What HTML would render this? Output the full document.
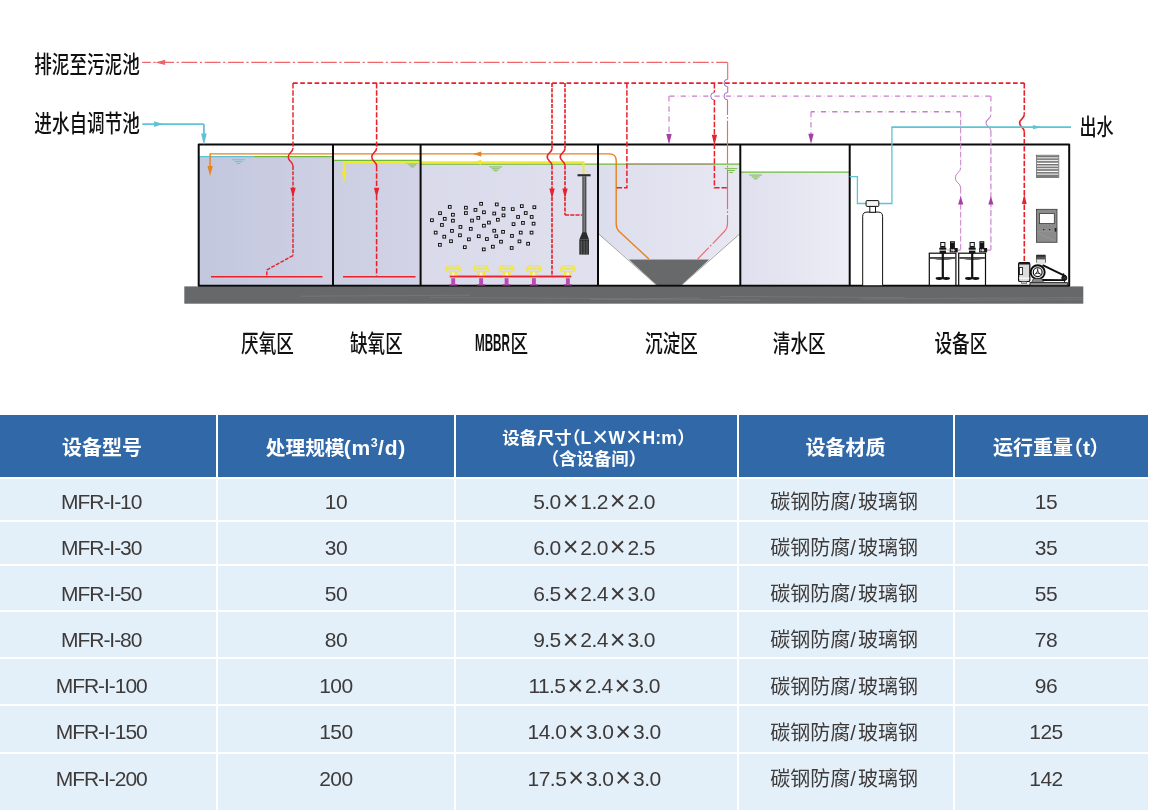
<!DOCTYPE html>
<html lang="zh-CN">
<head>
<meta charset="utf-8">
<title>一体化污水处理设备 工艺流程与型号参数</title>
<style>
html,body{margin:0;padding:0;background:#fff}
html{width:1149px;height:810px;overflow:hidden}
body{position:relative;width:1149px;height:810px;overflow:hidden;font-family:"Liberation Sans","Noto Sans CJK SC",sans-serif;color:#3e3a39}
#page{position:absolute;left:0;top:0;width:1149px;height:810px;overflow:hidden}
#ov{position:absolute;left:0;top:0;width:1149px;height:810px;pointer-events:none;will-change:transform}
#ov text{font-family:"Liberation Sans","Noto Sans CJK SC",sans-serif}
.h{color:transparent}
#spec{position:absolute;left:-2px;top:413px;border-collapse:separate;border-spacing:2px;table-layout:fixed;width:1151.7px;background:#fff;margin:0;will-change:transform}
#spec th,#spec td{padding:0;margin:0;vertical-align:top;white-space:nowrap;overflow:hidden;text-align:center}
#spec th{background:#3168a8;color:#fff;font-weight:bold;height:62px;font-size:20px;line-height:24px;text-align:left}
#spec td{background:#e3f0fa;color:#3e3a39;font-size:21px;line-height:24px;letter-spacing:-0.55px}
#spec .x{display:inline-block;width:19.6px;text-align:center;font-size:27px;line-height:0;letter-spacing:0;position:relative;top:1.8px}
#spec tr.r1 td{height:40.7px;padding-top:10.52px}
#spec tr.r2 td{height:42.1px;padding-top:14px}
#spec tr.r3 td{height:44.6px;padding-top:16.08px}
#spec tr.r4 td{height:44.9px;padding-top:15.66px}
#spec tr.r5 td{height:45px;padding-top:14.94px}
#spec tr.r6 td{height:45.4px;padding-top:14.12px}
#spec tr.r7 td{height:58.3px;padding-top:12.9px}
#spec td,#spec th{box-sizing:border-box}
#spec td.c1{letter-spacing:-1.05px}
#spec td.c1{padding-right:13.1px}
#spec td.c2{padding-left:0.3px}
#spec td.c3{padding-right:4.5px}
#spec td.c4{padding-right:3.6px}
#spec td.c5{padding-right:10.8px}
#spec th,#spec td{position:relative}
#spec .h{position:absolute;top:0;height:24px;line-height:24px;white-space:nowrap;overflow:hidden;letter-spacing:0;font-size:20px}
#spec sup{font-size:12.5px;line-height:0;vertical-align:baseline;position:relative;top:-8px;letter-spacing:0.3px}
#spec .x3{display:inline-block;width:17.2px;text-align:center;font-size:27px;font-weight:normal;line-height:0;position:relative;top:1.9px;letter-spacing:0}
</style>
</head>
<body>
<div id="page">
<table id="spec">
<colgroup><col style="width:215.5px"><col style="width:236.5px"><col style="width:280.7px"><col style="width:214.4px"><col style="width:192.6px"></colgroup>
<thead><tr><th></th><th style="padding:20.92px 0 0 126.25px;font-size:21px;line-height:24px;letter-spacing:0.7px">(m<sup>3</sup>/d)</th><th style="padding:10.9px 0 0 124.49px;font-size:17.6px;line-height:24px;letter-spacing:0.1px"><span class="l3" style="display:inline-block;width:96.65px;text-align:center">L<span class="x3">×</span>W<span class="x3">×</span>H:m</span><br></th><th></th><th style="padding:20.92px 0 0 128.02px;font-size:21px;line-height:24px;"><span style="display:inline-block;width:6.44px;text-align:center">t</span></th></tr></thead>
<tbody>
<tr class="r1"><td class="c1">MFR-I-10</td><td class="c2">10</td><td class="c3">5.0<span class="x">×</span>1.2<span class="x">×</span>2.0</td><td class="c4"></td><td class="c5">15</td></tr>
<tr class="r2"><td class="c1">MFR-I-30</td><td class="c2">30</td><td class="c3">6.0<span class="x">×</span>2.0<span class="x">×</span>2.5</td><td class="c4"></td><td class="c5">35</td></tr>
<tr class="r3"><td class="c1">MFR-I-50</td><td class="c2">50</td><td class="c3">6.5<span class="x">×</span>2.4<span class="x">×</span>3.0</td><td class="c4"></td><td class="c5">55</td></tr>
<tr class="r4"><td class="c1">MFR-I-80</td><td class="c2">80</td><td class="c3">9.5<span class="x">×</span>2.4<span class="x">×</span>3.0</td><td class="c4"></td><td class="c5">78</td></tr>
<tr class="r5"><td class="c1">MFR-I-100</td><td class="c2">100</td><td class="c3">11.5<span class="x">×</span>2.4<span class="x">×</span>3.0</td><td class="c4"></td><td class="c5">96</td></tr>
<tr class="r6"><td class="c1">MFR-I-150</td><td class="c2">150</td><td class="c3">14.0<span class="x">×</span>3.0<span class="x">×</span>3.0</td><td class="c4"></td><td class="c5">125</td></tr>
<tr class="r7"><td class="c1">MFR-I-200</td><td class="c2">200</td><td class="c3">17.5<span class="x">×</span>3.0<span class="x">×</span>3.0</td><td class="c4"></td><td class="c5">142</td></tr>
</tbody></table>
<svg id="ov" width="1149" height="810" viewBox="0 0 1149 810">
<defs>
<linearGradient id="w1" x1="0" x2="1" y1="0" y2="0"><stop offset="0" stop-color="#c2c7de"/><stop offset="1" stop-color="#cfd0e4"/></linearGradient>
<linearGradient id="w2" x1="0" x2="1" y1="0" y2="0"><stop offset="0" stop-color="#cccee2"/><stop offset="1" stop-color="#d2d3e6"/></linearGradient>
<linearGradient id="w3" x1="0" x2="1" y1="0" y2="0"><stop offset="0" stop-color="#d9daea"/><stop offset="1" stop-color="#e0e0ee"/></linearGradient>
<linearGradient id="w4" x1="0" x2="1" y1="0" y2="0"><stop offset="0" stop-color="#dddeed"/><stop offset="1" stop-color="#e8e8f3"/></linearGradient>
<linearGradient id="w5" x1="0" x2="1" y1="0" y2="0"><stop offset="0" stop-color="#dfdfee"/><stop offset="1" stop-color="#ededf6"/></linearGradient>
<linearGradient id="bp" x1="0" x2="0" y1="0" y2="1"><stop offset="0" stop-color="#686868"/><stop offset=".55" stop-color="#6e6e6e"/><stop offset=".62" stop-color="#7b7b7b"/><stop offset=".7" stop-color="#6d6d6d"/><stop offset="1" stop-color="#6a6a6a"/></linearGradient>

</defs>
<g id="water">
<rect x="198.7" y="156.6" width="134.3" height="129.1" fill="url(#w1)"/>
<rect x="333" y="160.4" width="87.6" height="125.3" fill="url(#w2)"/>
<rect x="420.6" y="164.2" width="177.4" height="121.5" fill="url(#w3)"/>
<polygon points="598,164.1 740.3,164.1 740.3,233.4 709.2,259.5 628.9,259.5 598,233.4" fill="url(#w4)"/>
<rect x="740.3" y="172.2" width="109.4" height="113.5" fill="url(#w5)"/>
</g>
<rect x="184.3" y="286.4" width="899.0" height="17.3" fill="#67686a"/>
<path d="M300 296.2 L470 295.2 M430 297.6 L640 298.6 L700 298.1 M590 299.4 L760 300 M720 296.4 L905 297.6 M860 299 L1000 298.2 L1083 297.4 M960 300.3 L1083 299.6" fill="none" stroke="#9a9a9a" stroke-opacity=".45" stroke-width="0.6"/>
<polygon points="628.9,259.5 709.2,259.5 681.6,285 656.6,285" fill="#68696a"/>
<path d="M598 233.4 L656.6 285" fill="none" stroke="#8a8a8a" stroke-width="0.8"/>
<path d="M740.3 233.4 L681.6 285" fill="none" stroke="#8a8a8a" stroke-width="0.8"/>
<path d="M198.7 156.6 L253.7 156.6" fill="none" stroke="#5fc3d5" stroke-width="1.2"/>
<path d="M253.7 156.6 L333 156.6" fill="none" stroke="#6fba3a" stroke-width="1.2"/>
<path d="M333 160.4 L420.6 160.4" fill="none" stroke="#6fba3a" stroke-width="1.2"/>
<path d="M420.6 164.1 L740.3 164.1" fill="none" stroke="#6fba3a" stroke-width="1.2"/>
<path d="M740.3 172.2 L849.7 172.2" fill="none" stroke="#6fba3a" stroke-width="1.2"/>
<path d="M627.6 164.1 L713.7 164.1" fill="none" stroke="#a8948a" stroke-width="1.45"/>
<rect x="232.2" y="159.3" width="12.6" height="0.9" fill="#5fc3d5"/><rect x="234.59" y="161.2" width="7.81" height="0.9" fill="#5fc3d5"/><rect x="236.61" y="163.1" width="3.78" height="0.9" fill="#5fc3d5"/>
<rect x="406.1" y="162.6" width="12.6" height="0.9" fill="#6fba3a"/><rect x="408.49" y="164.5" width="7.81" height="0.9" fill="#6fba3a"/><rect x="410.51" y="166.4" width="3.78" height="0.9" fill="#6fba3a"/>
<rect x="489.4" y="166.5" width="12.6" height="0.9" fill="#6fba3a"/><rect x="491.79" y="168.4" width="7.81" height="0.9" fill="#6fba3a"/><rect x="493.81" y="170.3" width="3.78" height="0.9" fill="#6fba3a"/>
<rect x="724.7" y="168.2" width="12.6" height="0.9" fill="#6fba3a"/><rect x="727.09" y="170.1" width="7.81" height="0.9" fill="#6fba3a"/><rect x="729.11" y="172" width="3.78" height="0.9" fill="#6fba3a"/>
<rect x="749.3" y="174.6" width="12.6" height="0.9" fill="#6fba3a"/><rect x="751.69" y="176.5" width="7.81" height="0.9" fill="#6fba3a"/><rect x="753.71" y="178.4" width="3.78" height="0.9" fill="#6fba3a"/>
<path d="M210.1 166 V153.9 H609.5 Q616.2 153.9 616.2 161 V224 Q616.2 228.5 619 231.2 L648.9 259" fill="none" stroke="#e8811f" stroke-width="1.4"/>
<polygon points="210.1,175.9 207.45,166.1 212.75,166.1" fill="#e8811f"/>
<polygon points="473,153.9 481.3,151.4 481.3,156.4" fill="#e8811f"/>
<path d="M344.2 172 V162.2 H583.6 V174.2" fill="none" stroke="#f1e738" stroke-width="1.9"/>
<polygon points="344.2,182.2 341.8,171.7 346.6,171.7" fill="#f1e738"/>
<polygon points="473,162.2 481.3,159.7 481.3,164.7" fill="#f1e738"/>
<g fill="none" stroke="#0a0a0a" stroke-width="2.0" stroke-linejoin="round">
<path d="M198.7 144.6 V285.7 H1069.2 V144.6 Z"/>
<path d="M333 144.6 V285.7"/>
<path d="M420.6 144.6 V285.7"/>
<path d="M598 144.6 V285.7"/>
<path d="M740.3 144.6 V285.7"/>
<path d="M849.7 144.6 V285.7"/>
</g>
<path d="M293 83 L1024.3 83" fill="none" stroke="#e7222a" stroke-width="1.75" stroke-dasharray="4.7 2.5"/>
<path d="M293 83 L293 148" fill="none" stroke="#e7222a" stroke-width="1.45" stroke-dasharray="5.4 1.9"/>
<path d="M293 148 C293 152.5 288.2 152.5 288.2 157 S293 161.5 293 166" fill="none" stroke="#e7222a" stroke-width="1.45"/>
<path d="M293 166 L293 255.6" fill="none" stroke="#e7222a" stroke-width="1.45" stroke-dasharray="3.9 1.3"/>
<path d="M293 255.6 L267 269.8 L266.7 276.5" fill="none" stroke="#e7222a" stroke-width="1.45" stroke-dasharray="3.9 1.3" stroke-linejoin="round"/>
<polygon points="293,197.8 290.3,187.8 295.7,187.8" fill="#e7222a"/>
<path d="M211 276.7 L322.5 276.7" fill="none" stroke="#e7222a" stroke-width="1.5"/>
<path d="M376.6 83 L376.6 148" fill="none" stroke="#e7222a" stroke-width="1.55" stroke-dasharray="5.4 1.9"/>
<path d="M376.6 148 C376.6 152.5 371.8 152.5 371.8 157 S376.6 161.5 376.6 166" fill="none" stroke="#e7222a" stroke-width="1.55"/>
<path d="M376.6 166 L376.6 276.5" fill="none" stroke="#e7222a" stroke-width="1.55" stroke-dasharray="5.4 1.9"/>
<polygon points="376.6,197.8 373.9,187.8 379.3,187.8" fill="#e7222a"/>
<path d="M343 276.7 L415.5 276.7" fill="none" stroke="#e7222a" stroke-width="1.5"/>
<path d="M552 83 L552 148.5" fill="none" stroke="#e7222a" stroke-width="1.65" stroke-dasharray="4.1 1.15"/>
<path d="M552 148.5 C552 152.75 547.2 152.75 547.2 157 S552 161.25 552 165.5" fill="none" stroke="#e7222a" stroke-width="1.65"/>
<path d="M552 165.5 L552 276.3" fill="none" stroke="#e7222a" stroke-width="1.65" stroke-dasharray="4.1 1.15"/>
<polygon points="552,198.6 549.3,188.6 554.7,188.6" fill="#e7222a"/>
<path d="M449.8 276.5 L571.2 276.5" fill="none" stroke="#e7222a" stroke-width="1.6"/>
<path d="M565 83 L565 148.5" fill="none" stroke="#e7222a" stroke-width="1.65" stroke-dasharray="4.1 1.15"/>
<path d="M565 148.5 C565 152.75 560.2 152.75 560.2 157 S565 161.25 565 165.5" fill="none" stroke="#e7222a" stroke-width="1.65"/>
<path d="M565 165.5 L565 215" fill="none" stroke="#e7222a" stroke-width="1.65" stroke-dasharray="4.1 1.15"/>
<polygon points="565,198.6 562.3,188.6 567.7,188.6" fill="#e7222a"/>
<path d="M565 215 L582.2 215" fill="none" stroke="#e7222a" stroke-width="1.6" stroke-dasharray="4.1 1.15"/>
<path d="M626.9 83 L626.9 187.7 L616.4 187.7" fill="none" stroke="#e7222a" stroke-width="1.5" stroke-dasharray="5.4 1.9"/>
<path d="M714.4 83 L714.4 92.5" fill="none" stroke="#e7222a" stroke-width="1.5" stroke-dasharray="5.4 1.9"/>
<path d="M714.4 92.5 A3.7 3.7 0 0 0 714.4 99.9" fill="none" stroke="#9a6cc0" stroke-width="1"/>
<path d="M714.4 99.9 L714.4 187.7 L727.5 187.7" fill="none" stroke="#e7222a" stroke-width="1.5" stroke-dasharray="5.4 1.9"/>
<polygon points="714.4,145.2 711.75,134.7 717.05,134.7" fill="#e7222a"/>
<path d="M1024.3 83 L1024.3 114.6" fill="none" stroke="#e7222a" stroke-width="1.6" stroke-dasharray="5.4 1.9"/>
<path d="M1024.3 114.6 C1024.3 118.85 1019.6 118.85 1019.6 123.1 S1024.3 127.35 1024.3 131.6" fill="none" stroke="#e7222a" stroke-width="1.7"/>
<path d="M1024.3 131.6 L1024.3 263" fill="none" stroke="#e7222a" stroke-width="1.6" stroke-dasharray="5.4 1.9"/>
<polygon points="1024.3,194.6 1021.9,204.1 1026.7,204.1" fill="#e7222a"/>
<path d="M727.7 62.4 L142.2 62.4" fill="none" stroke="#f0676b" stroke-width="1.2" stroke-dasharray="15.8 2.65 2.15 2.65" stroke-dashoffset="4.3"/>
<polygon points="155.2,62.4 165.2,59.7 165.2,65.1" fill="#ea666b"/>
<path d="M727.7 62.4 L727.7 79.3" fill="none" stroke="#f0676b" stroke-width="1.1"/>
<path d="M727.7 79.3 A3.7 3.7 0 0 0 727.7 86.7" fill="none" stroke="#9a6cc0" stroke-width="1"/>
<path d="M727.7 86.7 L727.7 92.5" fill="none" stroke="#f0676b" stroke-width="1.1"/>
<path d="M727.7 92.5 A3.7 3.7 0 0 0 727.7 99.9" fill="none" stroke="#9a6cc0" stroke-width="1"/>
<path d="M727.5 99.9 V223 Q727.5 228.5 724.3 231.5 L697.6 259.2" fill="none" stroke="#f0676b" stroke-width="1.15" stroke-dasharray="15.1 2 1.8 2 43 2 1.8 2 39.7 2 1.8 2 33.9 2 1.8 2 30"/>
<path d="M669 96.1 L990.9 96.1" fill="none" stroke="#c47fc8" stroke-width="1.45" stroke-dasharray="5.2 6.08" stroke-dashoffset="-0.4"/>
<path d="M669 96.1 L990.9 96.1" fill="none" stroke="#e2c4e6" stroke-width="1.23" stroke-dasharray="1.1 10.18" stroke-dashoffset="-8.09"/>
<path d="M669 96.1 L669 134" fill="none" stroke="#c47fc8" stroke-width="1.15" stroke-dasharray="5.5 4.6" stroke-dashoffset="0"/>
<path d="M669 96.1 L669 134" fill="none" stroke="#e2c4e6" stroke-width="0.98" stroke-dasharray="1.1 9" stroke-dashoffset="-7.25"/>
<path d="M990.9 96.1 L990.9 115.1" fill="none" stroke="#c47fc8" stroke-width="1.15" stroke-dasharray="5.5 4.6" stroke-dashoffset="0"/>
<path d="M990.9 96.1 L990.9 115.1" fill="none" stroke="#e2c4e6" stroke-width="0.98" stroke-dasharray="1.1 9" stroke-dashoffset="-7.25"/>
<polygon points="669,144.4 666.3,134 671.7,134" fill="#a63fa3"/>
<path d="M990.9 115.1 C990.9 119 986 119 986 122.9 S990.9 126.8 990.9 130.7" fill="none" stroke="#c47fc8" stroke-width="1.1"/>
<path d="M990.9 130.7 L990.9 249.8" fill="none" stroke="#c47fc8" stroke-width="1.15" stroke-dasharray="6.1 2.7" stroke-dashoffset="0"/>
<path d="M990.9 130.7 L990.9 249.8" fill="none" stroke="#e2c4e6" stroke-width="0.98" stroke-dasharray="1.1 7.7" stroke-dashoffset="-6.9"/>
<path d="M990.9 250.1 L985.3 250.1" fill="none" stroke="#c47fc8" stroke-width="1.2"/>
<polygon points="990.9,196.2 988.3,204.4 993.5,204.4" fill="#a63fa3"/>
<path d="M811 111.8 L960.7 111.8" fill="none" stroke="#c47fc8" stroke-width="1.45" stroke-dasharray="5.2 6.09" stroke-dashoffset="1.4"/>
<path d="M811 111.8 L960.7 111.8" fill="none" stroke="#e2c4e6" stroke-width="1.23" stroke-dasharray="1.1 10.19" stroke-dashoffset="-6.29"/>
<path d="M811 111.8 L811 134" fill="none" stroke="#c47fc8" stroke-width="1.15" stroke-dasharray="5.5 4.6" stroke-dashoffset="0"/>
<path d="M811 111.8 L811 134" fill="none" stroke="#e2c4e6" stroke-width="0.98" stroke-dasharray="1.1 9" stroke-dashoffset="-7.25"/>
<path d="M960.7 111.8 L960.7 167.6" fill="none" stroke="#c47fc8" stroke-width="1" stroke-dasharray="5.5 2.5" stroke-dashoffset="0"/>
<path d="M960.7 111.8 L960.7 167.6" fill="none" stroke="#e2c4e6" stroke-width="0.85" stroke-dasharray="1.1 6.9" stroke-dashoffset="-6.2"/>
<polygon points="811,144 808.3,133.8 813.7,133.8" fill="#a63fa3"/>
<path d="M960.7 167.6 C960.7 172.7 955.3 172.7 955.3 177.8 S960.7 182.9 960.7 188" fill="none" stroke="#c47fc8" stroke-width="1"/>
<path d="M960.7 188 L960.7 249.8" fill="none" stroke="#c47fc8" stroke-width="1" stroke-dasharray="5.5 2.5" stroke-dashoffset="0"/>
<path d="M960.7 188 L960.7 249.8" fill="none" stroke="#e2c4e6" stroke-width="0.85" stroke-dasharray="1.1 6.9" stroke-dashoffset="-6.2"/>
<path d="M960.7 250.1 L954.8 250.1" fill="none" stroke="#c47fc8" stroke-width="1.2"/>
<polygon points="960.7,196.2 958.1,204.4 963.3,204.4" fill="#a63fa3"/>
<path d="M142.3 124.1 H203 Q203.9 124.1 203.9 125 V136" fill="none" stroke="#5fc3d5" stroke-width="1.8"/>
<polygon points="163.1,124.1 154.1,121.25 154.1,126.95" fill="#5fc3d5"/>
<polygon points="203.9,145.1 201.05,133.6 206.75,133.6" fill="#5fc3d5"/>
<path d="M849.7 176.6 L857.4 176.6 L857.4 203.5 L866.2 203.5" fill="none" stroke="#5fc3d5" stroke-width="1.3"/>
<path d="M878.7 203.5 L891.9 203.5 L891.9 127.2" fill="none" stroke="#5fc3d5" stroke-width="1.3"/>
<path d="M891.3 127.2 L1071 127.2" fill="none" stroke="#5fc3d5" stroke-width="1.7"/>
<polygon points="1041.3,127.2 1032.9,125.05 1032.9,129.35" fill="#5fc3d5"/>
<text x="34.25" y="72.6" font-size="23.3" font-weight="500" textLength="105.55" lengthAdjust="spacingAndGlyphs" fill="#111">排泥至污泥池</text>
<text x="34.34" y="131.9" font-size="23.3" font-weight="500" textLength="105.55" lengthAdjust="spacingAndGlyphs" fill="#111">进水自调节池</text>
<text x="1079.46" y="134.85" font-size="22.2" font-weight="500" textLength="34.19" lengthAdjust="spacingAndGlyphs" fill="#111">出水</text>
<text x="241.11" y="351.8" font-size="23.3" font-weight="500" textLength="52.77" lengthAdjust="spacingAndGlyphs" fill="#111">厌氧区</text>
<text x="349.96" y="351.8" font-size="23.3" font-weight="500" textLength="52.77" lengthAdjust="spacingAndGlyphs" fill="#111">缺氧区</text>
<text x="645.1" y="351.8" font-size="23.3" font-weight="500" textLength="52.77" lengthAdjust="spacingAndGlyphs" fill="#111">沉淀区</text>
<text x="772.85" y="351.8" font-size="23.3" font-weight="500" textLength="52.77" lengthAdjust="spacingAndGlyphs" fill="#111">清水区</text>
<text x="934.5" y="351.8" font-size="23.3" font-weight="500" textLength="52.77" lengthAdjust="spacingAndGlyphs" fill="#111">设备区</text>
<text y="351.0" font-size="23.2" fill="#111"><tspan x="475" font-weight="bold" textLength="34.9" lengthAdjust="spacingAndGlyphs">MBBR</tspan><tspan x="510.4" y="351.8" font-size="23.3" font-weight="500" textLength="17.59" lengthAdjust="spacingAndGlyphs">区</tspan></text>
<g fill="#f4f4f8" stroke="#111" stroke-width="1">
<rect x="448.42" y="205.57" width="2.7" height="2.7"/>
<rect x="464.55" y="206.35" width="2.7" height="2.7"/>
<rect x="479.75" y="202.44" width="2.7" height="2.7"/>
<rect x="495.42" y="203.06" width="2.7" height="2.7"/>
<rect x="502.15" y="207.45" width="2.7" height="2.7"/>
<rect x="511.4" y="207.76" width="2.7" height="2.7"/>
<rect x="520.48" y="204.79" width="2.7" height="2.7"/>
<rect x="533.02" y="205.88" width="2.7" height="2.7"/>
<rect x="438.7" y="211.84" width="2.7" height="2.7"/>
<rect x="451.55" y="213.4" width="2.7" height="2.7"/>
<rect x="464.55" y="211.68" width="2.7" height="2.7"/>
<rect x="474.11" y="208.55" width="2.7" height="2.7"/>
<rect x="482.57" y="210.9" width="2.7" height="2.7"/>
<rect x="492.91" y="212.15" width="2.7" height="2.7"/>
<rect x="502.15" y="214.03" width="2.7" height="2.7"/>
<rect x="524.4" y="211.68" width="2.7" height="2.7"/>
<rect x="530.35" y="215.6" width="2.7" height="2.7"/>
<rect x="516.72" y="215.6" width="2.7" height="2.7"/>
<rect x="430.56" y="218.89" width="2.7" height="2.7"/>
<rect x="443.4" y="217.48" width="2.7" height="2.7"/>
<rect x="451.55" y="219.36" width="2.7" height="2.7"/>
<rect x="470.66" y="219.2" width="2.7" height="2.7"/>
<rect x="476.93" y="216.54" width="2.7" height="2.7"/>
<rect x="487.58" y="221.24" width="2.7" height="2.7"/>
<rect x="496.51" y="218.42" width="2.7" height="2.7"/>
<rect x="512.18" y="222.8" width="2.7" height="2.7"/>
<rect x="521.58" y="221.55" width="2.7" height="2.7"/>
<rect x="532.23" y="222.33" width="2.7" height="2.7"/>
<rect x="440.58" y="223.59" width="2.7" height="2.7"/>
<rect x="459.07" y="225.62" width="2.7" height="2.7"/>
<rect x="469.41" y="227.5" width="2.7" height="2.7"/>
<rect x="482.57" y="224.37" width="2.7" height="2.7"/>
<rect x="492.91" y="229.38" width="2.7" height="2.7"/>
<rect x="501.68" y="230.48" width="2.7" height="2.7"/>
<rect x="519.39" y="231.26" width="2.7" height="2.7"/>
<rect x="530.2" y="231.26" width="2.7" height="2.7"/>
<rect x="434.32" y="231.26" width="2.7" height="2.7"/>
<rect x="450.61" y="229.54" width="2.7" height="2.7"/>
<rect x="458.6" y="233.93" width="2.7" height="2.7"/>
<rect x="442.93" y="235.34" width="2.7" height="2.7"/>
<rect x="477.4" y="234.87" width="2.7" height="2.7"/>
<rect x="494.95" y="234.87" width="2.7" height="2.7"/>
<rect x="510.61" y="234.55" width="2.7" height="2.7"/>
<rect x="449.67" y="239.88" width="2.7" height="2.7"/>
<rect x="467.53" y="238" width="2.7" height="2.7"/>
<rect x="485.55" y="237.69" width="2.7" height="2.7"/>
<rect x="499.65" y="240.35" width="2.7" height="2.7"/>
<rect x="518.13" y="240.04" width="2.7" height="2.7"/>
<rect x="526.75" y="242.39" width="2.7" height="2.7"/>
<rect x="438.55" y="243.48" width="2.7" height="2.7"/>
<rect x="463.46" y="245.83" width="2.7" height="2.7"/>
<rect x="482.41" y="248.03" width="2.7" height="2.7"/>
<rect x="491.5" y="245.36" width="2.7" height="2.7"/>
<rect x="510.3" y="246.62" width="2.7" height="2.7"/>
</g>
<rect x="451.25" y="278.2" width="3.9" height="6.2" fill="#b24fae"/><rect x="449.2" y="284.0" width="8.0" height="1.5" fill="#b24fae"/><rect x="451.7" y="271.6" width="3.0" height="4.3" fill="#fff" fill-opacity=".55"/><path d="M449.8 271.2 V278.3 M456.6 271.2 V278.3 M451.3 272 V277.6 M455.1 272 V277.6" stroke="#f1e738" stroke-width="1.1" fill="none"/><ellipse cx="453.2" cy="267.5" rx="6.9" ry="1.9" fill="none" stroke="#f1e738" stroke-width="1.15"/><ellipse cx="453.2" cy="269.8" rx="7.6" ry="2.0" fill="none" stroke="#f1e738" stroke-width="1.15"/>
<rect x="479.15" y="278.2" width="3.9" height="6.2" fill="#b24fae"/><rect x="477.1" y="284.0" width="8.0" height="1.5" fill="#b24fae"/><rect x="479.6" y="271.6" width="3.0" height="4.3" fill="#fff" fill-opacity=".55"/><path d="M477.7 271.2 V278.3 M484.5 271.2 V278.3 M479.2 272 V277.6 M483 272 V277.6" stroke="#f1e738" stroke-width="1.1" fill="none"/><ellipse cx="481.1" cy="267.5" rx="6.9" ry="1.9" fill="none" stroke="#f1e738" stroke-width="1.15"/><ellipse cx="481.1" cy="269.8" rx="7.6" ry="2.0" fill="none" stroke="#f1e738" stroke-width="1.15"/>
<rect x="504.65" y="278.2" width="3.9" height="6.2" fill="#b24fae"/><rect x="502.6" y="284.0" width="8.0" height="1.5" fill="#b24fae"/><rect x="505.1" y="271.6" width="3.0" height="4.3" fill="#fff" fill-opacity=".55"/><path d="M503.2 271.2 V278.3 M510 271.2 V278.3 M504.7 272 V277.6 M508.5 272 V277.6" stroke="#f1e738" stroke-width="1.1" fill="none"/><ellipse cx="506.6" cy="267.5" rx="6.9" ry="1.9" fill="none" stroke="#f1e738" stroke-width="1.15"/><ellipse cx="506.6" cy="269.8" rx="7.6" ry="2.0" fill="none" stroke="#f1e738" stroke-width="1.15"/>
<rect x="531.95" y="278.2" width="3.9" height="6.2" fill="#b24fae"/><rect x="529.9" y="284.0" width="8.0" height="1.5" fill="#b24fae"/><rect x="532.4" y="271.6" width="3.0" height="4.3" fill="#fff" fill-opacity=".55"/><path d="M530.5 271.2 V278.3 M537.3 271.2 V278.3 M532 272 V277.6 M535.8 272 V277.6" stroke="#f1e738" stroke-width="1.1" fill="none"/><ellipse cx="533.9" cy="267.5" rx="6.9" ry="1.9" fill="none" stroke="#f1e738" stroke-width="1.15"/><ellipse cx="533.9" cy="269.8" rx="7.6" ry="2.0" fill="none" stroke="#f1e738" stroke-width="1.15"/>
<rect x="565.95" y="278.2" width="3.9" height="6.2" fill="#b24fae"/><rect x="563.9" y="284.0" width="8.0" height="1.5" fill="#b24fae"/><rect x="566.4" y="271.6" width="3.0" height="4.3" fill="#fff" fill-opacity=".55"/><path d="M564.5 271.2 V278.3 M571.3 271.2 V278.3 M566 272 V277.6 M569.8 272 V277.6" stroke="#f1e738" stroke-width="1.1" fill="none"/><ellipse cx="567.9" cy="267.5" rx="6.9" ry="1.9" fill="none" stroke="#f1e738" stroke-width="1.15"/><ellipse cx="567.9" cy="269.8" rx="7.6" ry="2.0" fill="none" stroke="#f1e738" stroke-width="1.15"/>
<path d="M449.8 276.5 L571.2 276.5" fill="none" stroke="#e7222a" stroke-width="1.6"/>
<g>
<rect x="577.5" y="174.2" width="13.1" height="2.1" fill="#2b2b2b"/>
<rect x="582.3" y="176.3" width="4.1" height="56.5" fill="#4d4d4d"/>
<rect x="583.6" y="176.3" width="1.3" height="56.5" fill="#808080"/>
<polygon points="582.3,232.3 586.4,232.3 589,239.6 579.3,239.6" fill="#2b2b2b"/>
<rect x="579.3" y="239.4" width="9.7" height="15.2" fill="#303030"/>
<path d="M581.3 241V254M584.15 241V254M587 241V254" stroke="#777" stroke-width="0.7"/>
</g>
<g fill="#fff" stroke="#111" stroke-width="1">
<path d="M862.7 285.3 V216.4 Q862.7 212.1 867 212.1 H878.3 Q882.6 212.1 882.6 216.4 V285.3"/>
<rect x="869.8" y="206.3" width="5.7" height="6.0"/>
<rect x="866.1" y="200.6" width="12.7" height="5.8" rx="0.8" fill="#f4f4f4"/>
</g>
<rect x="1036.4" y="155.2" width="22.4" height="22.2" fill="#fff" stroke="#4a4a4a" stroke-width="0.7"/>
<rect x="1036.8" y="155.9" width="21.6" height="1.55" fill="#8d8d8d"/><rect x="1036.8" y="155.9" width="21.6" height="0.5" fill="#555"/>
<rect x="1036.8" y="158.62" width="21.6" height="1.55" fill="#8d8d8d"/><rect x="1036.8" y="158.62" width="21.6" height="0.5" fill="#555"/>
<rect x="1036.8" y="161.34" width="21.6" height="1.55" fill="#8d8d8d"/><rect x="1036.8" y="161.34" width="21.6" height="0.5" fill="#555"/>
<rect x="1036.8" y="164.06" width="21.6" height="1.55" fill="#8d8d8d"/><rect x="1036.8" y="164.06" width="21.6" height="0.5" fill="#555"/>
<rect x="1036.8" y="166.78" width="21.6" height="1.55" fill="#8d8d8d"/><rect x="1036.8" y="166.78" width="21.6" height="0.5" fill="#555"/>
<rect x="1036.8" y="169.5" width="21.6" height="1.55" fill="#8d8d8d"/><rect x="1036.8" y="169.5" width="21.6" height="0.5" fill="#555"/>
<rect x="1036.8" y="172.22" width="21.6" height="1.55" fill="#8d8d8d"/><rect x="1036.8" y="172.22" width="21.6" height="0.5" fill="#555"/>
<rect x="1036.8" y="174.94" width="21.6" height="1.55" fill="#8d8d8d"/><rect x="1036.8" y="174.94" width="21.6" height="0.5" fill="#555"/>
<rect x="1036.8" y="174.7" width="21.6" height="2.5" fill="#7a7a7a"/>
<rect x="1036.4" y="209.3" width="20.6" height="33.0" fill="#8b8b8b" stroke="#3a3a3a" stroke-width="0.8"/>
<rect x="1039.6" y="213.6" width="14.7" height="10.0" fill="#fdfdfd" stroke="#3a3a3a" stroke-width="0.8"/>
<path d="M1036.8 231.7H1056.6" stroke="#9c9c9c" stroke-width="0.6"/>
<circle cx="1043.7" cy="229.6" r="0.7" fill="#111"/><circle cx="1049.6" cy="229.6" r="0.7" fill="#111"/>
<rect x="1054.7" y="228" width="1.7" height="3.7" fill="#222"/>
<path d="M1038 233.2 L1055.6 241" stroke="#a0a0a0" stroke-width="0.5"/>
<rect x="929.3" y="253.2" width="26.6" height="32.2" fill="#fff" stroke="#0c0c0c" stroke-width="1.2"/><rect x="929.9" y="257.2" width="25.4" height="1.5" fill="#1c1c1c"/><path d="M931.8 258.6 Q943.6 261.6 954.4 258.6 Z" fill="#555"/><rect x="941.7" y="252" width="2.2" height="26.6" fill="#111"/><ellipse cx="939.3" cy="278.5" rx="3.7" ry="1.4" fill="#111"/><ellipse cx="946.3" cy="278.5" rx="3.7" ry="1.4" fill="#111"/><rect x="940.2" y="242.0" width="5.2" height="5.8" fill="#141414"/><rect x="941.2" y="243.0" width="3.2" height="3.0" fill="#f2f2f2"/><rect x="939.3" y="247.7" width="7.0" height="2.0" fill="#141414"/><rect x="939.6" y="250.6" width="6.4" height="2.8" fill="#141414"/><rect x="950" y="241.2" width="4.9" height="6.9" fill="#141414"/><rect x="951.2" y="242.0" width="2.6" height="0.7" fill="#999"/><rect x="949.7" y="248.0" width="8.0" height="4.4" fill="#1a1a1a"/><circle cx="953.4" cy="250.2" r="1.25" fill="#ddd"/><rect x="950.9" y="249" width="0.9" height="2.4" fill="#ccc"/>
<rect x="958.7" y="253.2" width="26.8" height="32.2" fill="#fff" stroke="#0c0c0c" stroke-width="1.2"/><rect x="959.3" y="257.2" width="25.6" height="1.5" fill="#1c1c1c"/><path d="M961.2 258.6 Q973.1 261.6 984 258.6 Z" fill="#555"/><rect x="971.1" y="252" width="2.2" height="26.6" fill="#111"/><ellipse cx="968.7" cy="278.5" rx="3.7" ry="1.4" fill="#111"/><ellipse cx="975.7" cy="278.5" rx="3.7" ry="1.4" fill="#111"/><rect x="969.6" y="242.0" width="5.2" height="5.8" fill="#141414"/><rect x="970.6" y="243.0" width="3.2" height="3.0" fill="#f2f2f2"/><rect x="968.7" y="247.7" width="7.0" height="2.0" fill="#141414"/><rect x="969" y="250.6" width="6.4" height="2.8" fill="#141414"/><rect x="979.4" y="241.2" width="4.9" height="6.9" fill="#141414"/><rect x="980.6" y="242.0" width="2.6" height="0.7" fill="#999"/><rect x="979.1" y="248.0" width="8.0" height="4.4" fill="#1a1a1a"/><circle cx="982.8" cy="250.2" r="1.25" fill="#ddd"/><rect x="980.3" y="249" width="0.9" height="2.4" fill="#ccc"/>
<path d="M947.3 250.1H950" stroke="#f08a92" stroke-width="1.0"/>
<g>
<rect x="1030.0" y="282.6" width="37.4" height="2.9" fill="#8e8e8e" stroke="#1a1a1a" stroke-width="0.8"/>
<rect x="1018.6" y="262.6" width="11.2" height="18.9" rx="1.3" fill="#dcdcdc" stroke="#0e0e0e" stroke-width="1.2"/>
<rect x="1018.6" y="262.6" width="11.2" height="2.0" rx="1" fill="#1a1a1a"/>
<rect x="1019.4" y="267.6" width="3.2" height="7.0" fill="#fafafa" stroke="#0e0e0e" stroke-width="0.8"/>
<path d="M1019 278.2H1029.4" stroke="#fff" stroke-width="1.2"/>
<rect x="1021.4" y="281.5" width="5.4" height="1.9" fill="#c8c8c8" stroke="#333" stroke-width="0.5"/>
<path d="M1036.1 262.8 V255.2 q0.8 -1.1 1.6 -0.3 q0.8 -1 1.6 0 q0.8 -1 1.6 0 q0.8 -1 1.6 0 q0.8 -1 1.6 0 q0.8 -0.8 1.6 0.3 V262.8 Z" fill="#2a2a2a"/>
<rect x="1036.6" y="259.2" width="8.4" height="5.0" fill="#e4e4e4"/>
<rect x="1036.6" y="256.6" width="8.4" height="2.6" fill="#555"/>
<path d="M1043.2 265.4 L1065.4 276.2 M1043 280 L1063.2 280.1" stroke="#0e0e0e" stroke-width="1.9" stroke-linecap="round" fill="none"/>
<circle cx="1037.7" cy="272.2" r="7.0" fill="#e8e8e8" stroke="#0e0e0e" stroke-width="1.9"/>
<circle cx="1037.7" cy="272.2" r="4.4" fill="#fff" stroke="#0e0e0e" stroke-width="1.1"/>
<path d="M1037.7 268.6 L1037.7 272.4 M1037.7 272.4 L1034.6 274.4 M1037.7 272.4 L1040.8 274.4" stroke="#0e0e0e" stroke-width="1.0"/>
<polygon points="1037.7,270.7 1039.0,273.1 1036.4,273.1" fill="#fff" stroke="#0e0e0e" stroke-width="0.7"/>
<path d="M1033.4 278.6 L1031.6 282.4 H1043.6 L1041.8 278.6 Z" fill="#8a8a8a" stroke="#1a1a1a" stroke-width="0.6"/>
<circle cx="1064.3" cy="278.0" r="2.5" fill="#2a2a2a" stroke="#0e0e0e" stroke-width="1.0"/>
<circle cx="1064.3" cy="278.0" r="0.8" fill="#8a8a8a"/>
<path d="M1063.6 273.2 L1064.5 282.4" stroke="#0e0e0e" stroke-width="1.0"/>
</g>
<text x="61.9" y="455.2" font-size="20" font-weight="bold" fill="#fff">设备型号</text>
<text x="265.8" y="455.2" font-size="19.7" font-weight="bold" fill="#fff">处理规模</text>
<text x="502.19" y="444" font-size="17.4" font-weight="bold" fill="#fff">设备尺寸<tspan dx="-8.7">（</tspan></text>
<text x="677.14" y="444" font-size="17.4" font-weight="bold" fill="#fff">）</text>
<text x="541.76" y="464.8" font-size="17.4" font-weight="bold" fill="#fff">（含设备间）</text>
<text x="805.6" y="455.2" font-size="20" font-weight="bold" fill="#fff">设备材质</text>
<text x="993.12" y="455.2" font-size="20" font-weight="bold" fill="#fff">运行重量<tspan dx="-10">（</tspan></text>
<text x="1089.56" y="455.2" font-size="20" font-weight="bold" fill="#fff">）</text>
<text y="508.8" font-size="20" fill="#3e3a39"><tspan x="770.28">碳钢防腐/</tspan><tspan x="858.12">玻璃钢</tspan></text>
<text y="554.98" font-size="20" fill="#3e3a39"><tspan x="770.28">碳钢防腐/</tspan><tspan x="858.12">玻璃钢</tspan></text>
<text y="601.16" font-size="20" fill="#3e3a39"><tspan x="770.28">碳钢防腐/</tspan><tspan x="858.12">玻璃钢</tspan></text>
<text y="647.34" font-size="20" fill="#3e3a39"><tspan x="770.28">碳钢防腐/</tspan><tspan x="858.12">玻璃钢</tspan></text>
<text y="693.52" font-size="20" fill="#3e3a39"><tspan x="770.28">碳钢防腐/</tspan><tspan x="858.12">玻璃钢</tspan></text>
<text y="739.7" font-size="20" fill="#3e3a39"><tspan x="770.28">碳钢防腐/</tspan><tspan x="858.12">玻璃钢</tspan></text>
<text y="785.88" font-size="20" fill="#3e3a39"><tspan x="770.28">碳钢防腐/</tspan><tspan x="858.12">玻璃钢</tspan></text>
</svg>
</div>
</body>
</html>
